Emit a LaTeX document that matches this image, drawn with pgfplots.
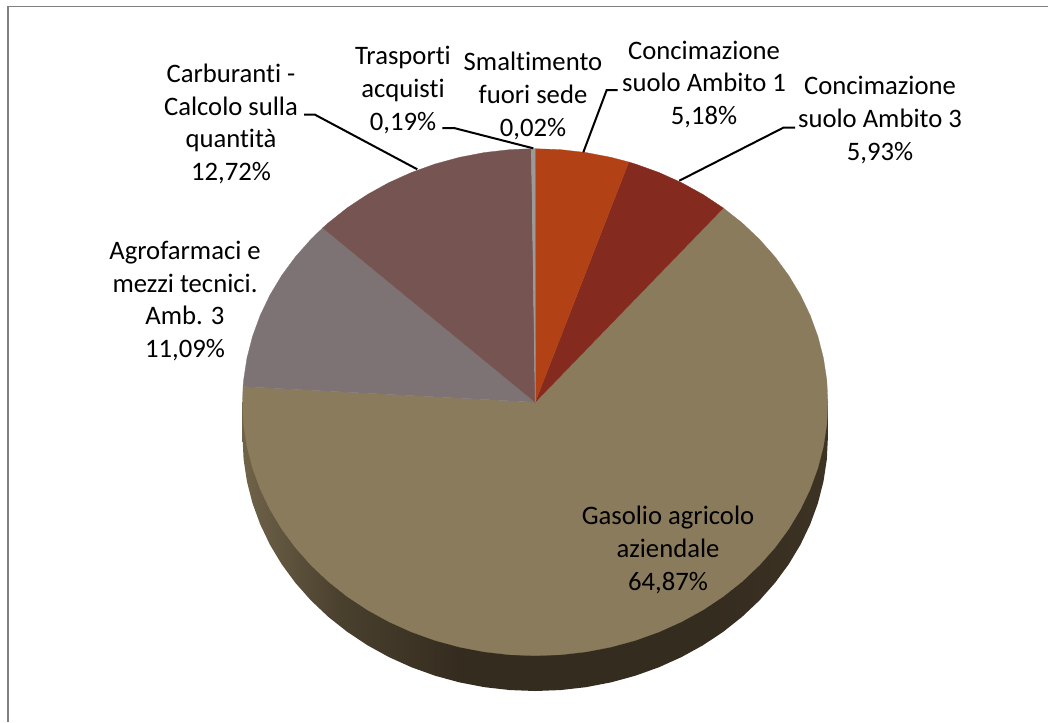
\documentclass[border=0pt]{standalone}
\usepackage{fontspec}
\setmainfont[Ligatures=NoCommon]{Carlito}
\usepackage{pgfplots}
\pgfplotsset{compat=1.18}
\definecolor{cGas}{HTML}{8A7B5C}
\definecolor{cAgro}{HTML}{7E7374}
\definecolor{cCarb}{HTML}{765452}
\definecolor{cCon1}{HTML}{B24216}
\definecolor{cCon3}{HTML}{842A1E}
\definecolor{cGrey}{HTML}{9A9A9A}
\definecolor{cSideA}{HTML}{6F6349}
\definecolor{cSideB}{HTML}{4A402E}
\definecolor{cSideC}{HTML}{352C20}
\definecolor{cSideD}{HTML}{3C3324}
\definecolor{cFrame}{HTML}{808080}
\pgfdeclarehorizontalshading{sidewall}{100bp}{color(0bp)=(cSideA); color(25bp)=(cSideA); color(33.3bp)=(cSideB); color(43.5bp)=(cSideC); color(65bp)=(cSideC); color(75bp)=(cSideD); color(100bp)=(cSideD)}
\tikzset{lab/.style={align=center, inner sep=0pt, font=\fontsize{20}{24.6}\selectfont}}
\begin{document}
\begin{tikzpicture}
\useasboundingbox (0,0) rectangle (786pt,541.5pt);
% pie: unit coordinates (sin t, cos t), t clockwise from the top
\begin{axis}[hide axis, scale only axis, width=786pt, height=541.5pt,
  xmin=-1.82847, xmax=1.75197, ymin=-1.26154, ymax=1.58659, clip=false]
% side wall
\addplot[draw=none, shading=sidewall] coordinates {
 (-1,0)(-1,-.1393)(-.99619,-.22646)(-.98481,-.31295)(-.96593,-.39812)(-.93969,-.48132)(-.90631,-.56192)(-.86603,-.6393)(-.81915,-.71288)(-.76604,-.78209)(-.70711,-.84641)(-.64279,-.90534)(-.57358,-.95845)(-.5,-1.00533)(-.42262,-1.04561)(-.34202,-1.07899)(-.25882,-1.10523)(-.17365,-1.12411)(-.08716,-1.13549)(0,-1.1393)(.08716,-1.13549)(.17365,-1.12411)(.25882,-1.10523)(.34202,-1.07899)(.42262,-1.04561)(.5,-1.00533)(.57358,-.95845)(.64279,-.90534)(.70711,-.84641)(.76604,-.78209)(.81915,-.71288)(.86603,-.6393)(.90631,-.56192)(.93969,-.48132)(.96593,-.39812)(.98481,-.31295)(.99619,-.22646)(1,-.1393)(1,0)} --cycle;
% Gasolio agricolo aziendale 64,87%
\addplot[draw=cGas, line width=0.2pt, fill=cGas] coordinates {
 (0,0)(.64274,.76608)(.70711,.70711)(.76604,.64279)(.81915,.57358)(.86603,.5)(.90631,.42262)(.93969,.34202)(.96593,.25882)(.98481,.17365)(.99619,.08716)(1,0)
 (.99619,-.08716)(.98481,-.17365)(.96593,-.25882)(.93969,-.34202)(.90631,-.42262)(.86603,-.5)(.81915,-.57358)(.76604,-.64279)(.70711,-.70711)(.64279,-.76604)(.57358,-.81915)(.5,-.86603)(.42262,-.90631)(.34202,-.93969)(.25882,-.96593)(.17365,-.98481)(.08716,-.99619)(0,-1)
 (-.08716,-.99619)(-.17365,-.98481)(-.25882,-.96593)(-.34202,-.93969)(-.42262,-.90631)(-.5,-.86603)(-.57358,-.81915)(-.64279,-.76604)(-.70711,-.70711)(-.76604,-.64279)(-.81915,-.57358)(-.86603,-.5)(-.90631,-.42262)(-.93969,-.34202)(-.96593,-.25882)(-.98481,-.17365)(-.99619,-.08716)(-1,0)(-.99810,.06153)} --cycle;
% Agrofarmaci 11,09%
\addplot[draw=cAgro, line width=0.2pt, fill=cAgro] coordinates {
 (0,0)(-.99810,.06153)(-.99619,.08716)(-.98481,.17365)(-.96593,.25882)(-.93969,.34202)(-.90631,.42262)(-.86603,.5)(-.81915,.57358)(-.76604,.64279)(-.72595,.68774)} --cycle;
% Carburanti 12,72%
\addplot[draw=cCarb, line width=0.2pt, fill=cCarb] coordinates {
 (0,0)(-.72595,.68774)(-.70711,.70711)(-.64279,.76604)(-.57358,.81915)(-.5,.86603)(-.42262,.90631)(-.34202,.93969)(-.25882,.96593)(-.17365,.98481)(-.08716,.99619)(-.01319,.99991)} --cycle;
% Concimazione suolo Ambito 3 5,93%
\addplot[draw=cCon3, line width=0.2pt, fill=cCon3] coordinates {
 (0,0)(.31976,.94751)(.34202,.93969)(.42262,.90631)(.5,.86603)(.57358,.81915)(.64274,.76608)} --cycle;
% Concimazione suolo Ambito 1 5,18%
\addplot[draw=cCon1, line width=0.2pt, fill=cCon1] coordinates {
 (0,0)(0,1)(.08716,.99619)(.17365,.98481)(.25882,.96593)(.31976,.94751)} --cycle;
% Trasporti acquisti 0,19%
\addplot[draw=cGrey, line width=0.2pt, fill=cGrey] coordinates {
 (0,0)(-.01319,.99991)(-.00126,1)} --cycle;
% Smaltimento fuori sede 0,02%
\addplot[draw=cGrey, line width=0.2pt, fill=cGrey] coordinates {
 (0,0)(-.00126,1)(0,1)} --cycle;
\end{axis}
% frame, leader lines and labels: pixel coordinates of the reference
\begin{axis}[hide axis, scale only axis, width=786pt, height=541.5pt,
  xmin=0, xmax=1048, ymin=0, ymax=722, y dir=reverse]
\addplot[draw=cFrame, line width=1.1pt] coordinates {(1048,6.6)(7,6.6)};
\addplot[draw=cFrame, line width=1.7pt] coordinates {(8,6)(8,722)};
\addplot[draw=black, line width=1.5pt] coordinates {(304,114.7)(315,114.7)(417.3,169.3)};
\addplot[draw=black, line width=1.5pt] coordinates {(442.3,128)(454,128)(533.3,148.3)};
\addplot[draw=black, line width=1.5pt] coordinates {(617.7,90)(606.7,90)(583.3,152.3)};
\addplot[draw=black, line width=1.5pt] coordinates {(795,127.7)(783.3,127.7)(679.3,180.7)};
\node[lab] at (axis cs:704,84.5) {Concimazione\\suolo Ambito 1\\5,18\%};
\node[lab] at (axis cs:880,120) {Concimazione\\suolo Ambito 3\\5,93\%};
\node[lab] at (axis cs:668,550) {Gasolio agricolo\\aziendale\\64,87\%};
\node[lab] at (axis cs:185,301) {Agrofarmaci e\\mezzi tecnici.\\Amb. 3\\11,09\%};
\node[lab] at (axis cs:231,124) {Carburanti -\\Calcolo sulla\\quantità\\12,72\%};
\node[lab] at (axis cs:403,90) {Trasporti\\acquisti\\0,19\%};
\node[lab] at (axis cs:533,96) {Smaltimento\\fuori sede\\0,02\%};
\end{axis}
\end{tikzpicture}
\end{document}
